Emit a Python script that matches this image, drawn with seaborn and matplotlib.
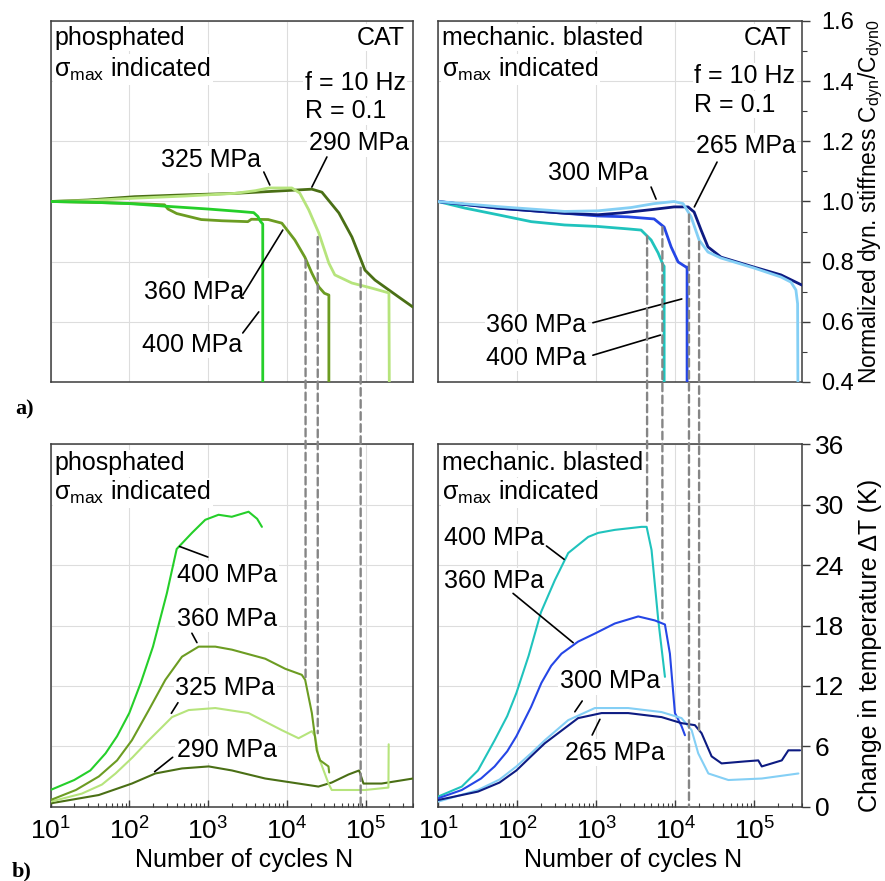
import numpy as np
import pandas as pd
import matplotlib
matplotlib.use("Agg")
import matplotlib.pyplot as plt
import seaborn as sns
from matplotlib.patches import ConnectionPatch
from matplotlib.ticker import LogLocator, MultipleLocator, NullFormatter, FormatStrFormatter

sns.set_style("white")
plt.rcParams['font.family'] = ['Liberation Sans', 'DejaVu Sans']
plt.rcParams['mathtext.fontset'] = 'custom'
plt.rcParams['mathtext.rm'] = 'Liberation Sans'
plt.rcParams['mathtext.it'] = 'Liberation Sans:italic'
plt.rcParams['mathtext.bf'] = 'Liberation Sans:bold'
plt.rcParams['mathtext.sf'] = 'Liberation Sans'
plt.rcParams['text.color'] = 'black'
plt.rcParams['axes.labelcolor'] = 'black'
plt.rcParams['xtick.color'] = 'black'
plt.rcParams['ytick.color'] = 'black'

# ---------------- data: a) normalized dynamic stiffness ----------------
# phosphated
ph400_N = [10, 30, 100, 300, 1000, 2500, 3800, 4300, 4600, 4950, 4950]
ph400_C = [1.0, 0.998, 0.993, 0.984, 0.975, 0.967, 0.963, 0.950, 0.935, 0.925, 0.40]
ph360_N = [10, 50, 150, 280, 310, 400, 820, 1500, 3200, 3550, 5800, 8650, 12650, 16950, 20800, 25500, 30000, 34200, 34200]
ph360_C = [1.0, 0.996, 0.992, 0.989, 0.975, 0.960, 0.940, 0.936, 0.933, 0.941, 0.940, 0.928, 0.872, 0.815, 0.762, 0.716, 0.695, 0.689, 0.40]
ph325_N = [10, 30, 117, 500, 2180, 4000, 5900, 11600, 14600, 19000, 25500, 34200, 40700, 67100, 120000, 198000, 200000]
ph325_C = [1.0, 1.003, 1.011, 1.018, 1.027, 1.036, 1.045, 1.045, 1.028, 0.972, 0.895, 0.795, 0.756, 0.729, 0.712, 0.696, 0.40]
ph290_N = [10, 30, 117, 500, 2180, 9440, 20800, 27900, 45800, 67100, 84700, 98200, 131500, 265000, 400000]
ph290_C = [1.0, 1.005, 1.016, 1.022, 1.027, 1.036, 1.041, 1.031, 0.962, 0.882, 0.815, 0.772, 0.739, 0.682, 0.649]
# mechanically blasted
mb400_N = [10, 22, 57, 151, 398, 1050, 2500, 3700, 4950, 6070, 7020, 7230, 7230]
mb400_C = [1.0, 0.978, 0.956, 0.933, 0.922, 0.917, 0.909, 0.905, 0.872, 0.829, 0.789, 0.785, 0.40]
mb360_N = [10, 57, 398, 1050, 2500, 5400, 7230, 8860, 10860, 13700, 14100, 14100]
mb360_C = [1.0, 0.978, 0.961, 0.952, 0.949, 0.942, 0.915, 0.849, 0.799, 0.782, 0.782, 0.40]
mb300_N = [10, 57, 398, 1050, 2770, 5400, 9660, 12550, 15850, 20000, 25900, 37900, 98900, 217000, 290000, 335000, 352000, 355000]
mb300_C = [1.0, 0.983, 0.967, 0.969, 0.980, 0.993, 1.0, 0.993, 0.949, 0.872, 0.832, 0.812, 0.779, 0.749, 0.732, 0.706, 0.66, 0.40]
mb265_N = [10, 57, 398, 1050, 2070, 5000, 9660, 14500, 17300, 21200, 25900, 37900, 98900, 217000, 400000]
mb265_C = [1.0, 0.978, 0.961, 0.956, 0.962, 0.973, 0.982, 0.982, 0.965, 0.905, 0.849, 0.815, 0.782, 0.756, 0.722]

# ---------------- data: b) change in temperature ----------------
tph400_N = [10, 20, 32, 50, 70, 100, 140, 200, 300, 400, 625, 922, 1360, 2000, 3270, 4200, 4830]
tph400_T = [1.66, 2.65, 3.6, 5.3, 7.0, 9.3, 12.3, 15.9, 21.2, 25.6, 27.2, 28.5, 29.0, 28.8, 29.3, 28.6, 27.8]
tph360_N = [10, 21, 41, 70, 108, 177, 287, 467, 760, 1236, 2010, 5320, 9550, 15500, 17100, 20800, 24000, 26500, 33800, 34500]
tph360_T = [0.66, 1.66, 3.0, 4.6, 6.6, 9.6, 12.6, 14.9, 15.9, 15.9, 15.6, 14.7, 13.7, 13.1, 12.6, 9.3, 5.6, 4.6, 4.0, 3.4]
tph325_N = [10, 25, 45, 67, 110, 177, 260, 349, 568, 1236, 3270, 8650, 14100, 20800, 22900, 25200, 33800, 37200, 98600, 195000, 196500]
tph325_T = [0.5, 1.3, 2.2, 3.3, 4.9, 6.6, 7.9, 8.9, 9.6, 9.8, 9.3, 7.6, 6.8, 7.5, 7.0, 5.0, 2.3, 1.66, 1.66, 1.9, 6.2]
tph290_N = [10, 41, 108, 214, 467, 1020, 2010, 5320, 14100, 25200, 37200, 60700, 82800, 94000, 160000, 400000]
tph290_T = [0.33, 1.16, 2.3, 3.3, 3.8, 4.0, 3.6, 2.8, 2.3, 2.0, 2.4, 3.2, 3.6, 2.3, 2.3, 2.8]

tmb400_N = [10, 20, 32, 52, 75, 98, 140, 200, 300, 443, 793, 1060, 1720, 3750, 4340, 5010, 6100, 7400]
tmb400_T = [1.0, 2.0, 3.6, 6.6, 9.0, 11.3, 15.0, 19.3, 22.5, 25.2, 26.8, 27.2, 27.5, 27.8, 27.8, 25.5, 18.5, 12.9]
tmb360_N = [10, 20, 35, 52, 75, 98, 150, 203, 270, 364, 591, 962, 1720, 3400, 5530, 7400, 8550, 9900, 12000, 13250]
tmb360_T = [0.83, 1.66, 2.8, 4.0, 5.5, 7.0, 9.9, 12.3, 14.0, 15.2, 16.4, 17.2, 18.2, 18.9, 18.5, 18.1, 15.2, 9.3, 8.0, 7.1]
tmb300_N = [10, 32, 60, 98, 150, 224, 443, 962, 2540, 6710, 12000, 16100, 19500, 26200, 46900, 124000, 360000]
tmb300_T = [0.5, 1.66, 2.7, 4.0, 5.3, 6.6, 8.6, 9.8, 9.8, 9.4, 8.8, 7.6, 5.3, 3.3, 2.65, 2.8, 3.3]
tmb265_N = [10, 32, 60, 98, 150, 224, 591, 1170, 2540, 6710, 12000, 17700, 21500, 28800, 38500, 76200, 112000, 124000, 222000, 269000, 378000]
tmb265_T = [0.66, 1.5, 2.4, 3.6, 5.0, 6.3, 8.8, 9.3, 9.3, 8.9, 8.3, 8.1, 7.3, 5.0, 4.3, 4.5, 4.6, 4.0, 4.6, 5.6, 5.6]

# dashed connector lines: cycles, value in a), value in b)
ph_links_N = [17300, 24700, 86600]
ph_links_top = [0.805, 0.882, 0.78]
ph_links_bot = [12.6, 7.3, 0.0]
mb_links_N = [4400, 6870, 14900, 20000]
mb_links_top = [0.885, 0.915, 0.957, 0.866]
mb_links_bot = [28.2, 18.7, 0.0, 7.6]

ph_colors = {'400 MPa': '#25cf2a', '360 MPa': '#6c9c22', '325 MPa': '#b6e47c', '290 MPa': '#4a6f15'}
mb_colors = {'400 MPa': '#20c3bd', '360 MPa': '#2546e6', '300 MPa': '#84cff5', '265 MPa': '#0d1b82'}

W, H = 885, 881
fig = plt.figure(figsize=(W / 100, H / 100), dpi=100)


def fig_rect(x0, y0, x1, y1):
    return [x0 / W, 1 - y1 / H, (x1 - x0) / W, (y1 - y0) / H]


axTL = fig.add_axes(fig_rect(50.5, 21, 413, 382))
axTR = fig.add_axes(fig_rect(438, 21, 802, 382))
axBL = fig.add_axes(fig_rect(50.5, 444.3, 413, 806.7))
axBR = fig.add_axes(fig_rect(438, 444.3, 802, 806.7))


def draw(ax, series, palette, lw):
    frames = []
    for name, (n, v) in series.items():
        frames.append(pd.DataFrame({'N': n, 'val': v, 'series': name}))
    df = pd.concat(frames, ignore_index=True)
    sns.lineplot(data=df, x='N', y='val', hue='series', palette=palette,
                 estimator=None, sort=False, legend=False, lw=lw, ax=ax, zorder=4)


draw(axTL, {'290 MPa': (ph290_N, ph290_C), '325 MPa': (ph325_N, ph325_C),
            '360 MPa': (ph360_N, ph360_C), '400 MPa': (ph400_N, ph400_C)}, ph_colors, 2.0)
draw(axTR, {'400 MPa': (mb400_N, mb400_C), '360 MPa': (mb360_N, mb360_C),
            '265 MPa': (mb265_N, mb265_C), '300 MPa': (mb300_N, mb300_C)}, mb_colors, 2.0)
draw(axBL, {'290 MPa': (tph290_N, tph290_T), '325 MPa': (tph325_N, tph325_T),
            '360 MPa': (tph360_N, tph360_T), '400 MPa': (tph400_N, tph400_T)}, ph_colors, 1.5)
draw(axBR, {'400 MPa': (tmb400_N, tmb400_T), '360 MPa': (tmb360_N, tmb360_T),
            '300 MPa': (tmb300_N, tmb300_T), '265 MPa': (tmb265_N, tmb265_T)}, mb_colors, 1.5)

FS = 18
spine_c = '#3c3c3c'
for ax in (axTL, axTR, axBL, axBR):
    ax.set_xscale('log')
    ax.set_xlim(10, 4e5)
    ax.set_xlabel('')
    ax.set_ylabel('')
    for s in ax.spines.values():
        s.set_visible(True)
        s.set_color(spine_c)
        s.set_linewidth(1.1)
    ax.grid(True, which='major', color='#dddddd', lw=0.8)
    ax.set_axisbelow(True)
    ax.xaxis.set_major_locator(LogLocator(base=10, numticks=10))
    ax.xaxis.set_minor_locator(LogLocator(base=10, subs=np.arange(2, 10), numticks=20))
    ax.xaxis.set_minor_formatter(NullFormatter())

for ax in (axTL, axTR):
    ax.set_ylim(0.4, 1.6)
    ax.yaxis.set_major_locator(MultipleLocator(0.2))
    ax.tick_params(axis='x', which='both', bottom=False, top=False, labelbottom=False)
for ax in (axBL, axBR):
    ax.set_ylim(0, 36)
    ax.yaxis.set_major_locator(MultipleLocator(6))
    ax.tick_params(axis='x', which='major', bottom=True, direction='in', length=5, width=1,
                   color=spine_c, labelcolor='black', labelsize=19, pad=8)
    ax.tick_params(axis='x', which='minor', bottom=True, direction='in', length=3, width=0.8,
                   color=spine_c)
    ax.set_xlabel('Number of cycles N', fontsize=FS, color='black')
    ax.xaxis.set_label_coords(0.535, -0.166)
    ax.xaxis.label.set_va('baseline')

for ax in (axTL, axBL):
    ax.tick_params(axis='y', which='both', left=False, right=False, labelleft=False)

axTR.yaxis.tick_right()
axTR.yaxis.set_minor_locator(MultipleLocator(0.1))
axTR.yaxis.set_major_formatter(FormatStrFormatter('%.1f'))
axTR.tick_params(axis='y', which='major', right=True, left=False, direction='out', length=6,
                 width=1, color=spine_c, labelcolor='black', labelsize=17, pad=8)
axTR.tick_params(axis='y', which='minor', right=True, left=False, direction='out', length=3.5,
                 width=0.8, color=spine_c)
axTR.set_ylabel(r'Normalized dyn. stiffness $\mathrm{C_{dyn}/C_{dyn0}}$', fontsize=16.5, color='black')
axTR.yaxis.set_label_position('right')
axTR.yaxis.set_label_coords(1.188, 0.5)
axTR.yaxis.label.set_va('center')

axBR.yaxis.tick_right()
axBR.tick_params(axis='y', which='major', right=True, left=False, direction='out', length=6,
                 width=1, color=spine_c, labelcolor='black', labelsize=19, pad=3)
axBR.set_ylabel('Change in temperature ΔT (K)', fontsize=FS, color='black')
axBR.yaxis.set_label_position('right')
axBR.yaxis.set_label_coords(1.188, 0.446)
axBR.yaxis.label.set_va('center')

box = dict(facecolor='white', edgecolor='none', pad=1.0)
sig = r'$\mathrm{σ_{max}}$ indicated'


def corner_texts(ax, title, fy_title, fy_sig):
    ax.text(0.011, fy_title, title, transform=ax.transAxes, fontsize=FS, ha='left', va='baseline',
            bbox=box, zorder=3)
    ax.text(0.011, fy_sig, sig, transform=ax.transAxes, fontsize=FS, ha='left', va='baseline',
            bbox=box, zorder=3)


corner_texts(axTL, 'phosphated', 0.934, 0.845)
corner_texts(axTR, 'mechanic. blasted', 0.934, 0.845)
corner_texts(axBL, 'phosphated', 0.929, 0.846)
corner_texts(axBR, 'mechanic. blasted', 0.929, 0.846)

axTL.text(0.978, 0.934, 'CAT', transform=axTL.transAxes, fontsize=FS, ha='right', va='baseline', bbox=box, zorder=3)
axTL.text(0.702, 0.809, 'f = 10 Hz', transform=axTL.transAxes, fontsize=FS, ha='left', va='baseline', bbox=box, zorder=3)
axTL.text(0.702, 0.731, 'R = 0.1', transform=axTL.transAxes, fontsize=FS, ha='left', va='baseline', bbox=box, zorder=3)
axTR.text(0.973, 0.934, 'CAT', transform=axTR.transAxes, fontsize=FS, ha='right', va='baseline', bbox=box, zorder=3)
axTR.text(0.704, 0.828, 'f = 10 Hz', transform=axTR.transAxes, fontsize=FS, ha='left', va='baseline', bbox=box, zorder=3)
axTR.text(0.704, 0.748, 'R = 0.1', transform=axTR.transAxes, fontsize=FS, ha='left', va='baseline', bbox=box, zorder=3)


def label(ax, text, xy_text, p0, p1):
    ax.text(10 ** xy_text[0], xy_text[1], text, fontsize=FS, ha='left', va='baseline',
            bbox=box, zorder=3)
    ax.plot([10 ** p0[0], 10 ** p1[0]], [p0[1], p1[1]], color='black', lw=1.2, zorder=5)


label(axTL, '325 MPa', (2.398, 1.115), (3.708, 1.098), (3.784, 1.055))
label(axTL, '290 MPa', (4.28, 1.171), (4.509, 1.148), (4.318, 1.048))
label(axTL, '360 MPa', (2.182, 0.676), (3.441, 0.689), (3.949, 0.905))
label(axTL, '400 MPa', (2.157, 0.500), (3.441, 0.563), (3.644, 0.633))

label(axTR, '265 MPa', (4.263, 1.161), (4.528, 1.131), (4.241, 0.982))
label(axTR, '300 MPa', (2.389, 1.071), (3.694, 1.048), (3.757, 1.008))
label(axTR, '360 MPa', (1.61, 0.566), (2.958, 0.597), (4.082, 0.676))
label(axTR, '400 MPa', (1.61, 0.457), (2.958, 0.489), (3.812, 0.556))

label(axBL, '400 MPa', (2.605, 22.37), (2.639, 25.85), (2.998, 24.8))
label(axBL, '360 MPa', (2.605, 17.96), (2.795, 17.23), (2.859, 16.3))
label(axBL, '325 MPa', (2.585, 11.1), (2.618, 10.33), (2.534, 9.28))
label(axBL, '290 MPa', (2.605, 4.97), (2.551, 4.91), (2.322, 3.48))

label(axBR, '400 MPa', (1.076, 26.0), (2.371, 25.9), (2.595, 24.57))
label(axBR, '360 MPa', (1.076, 21.7), (1.949, 21.19), (2.709, 16.29))
label(axBR, '300 MPa', (2.54, 11.76), (2.823, 10.5), (2.73, 9.43))
label(axBR, '265 MPa', (2.61, 4.64), (2.949, 7.12), (3.047, 8.68))

for xs, yt, yb, at, ab in ((ph_links_N, ph_links_top, ph_links_bot, axTL, axBL),
                           (mb_links_N, mb_links_top, mb_links_bot, axTR, axBR)):
    for x, y0, y1 in zip(xs, yt, yb):
        con = ConnectionPatch(xyA=(x, y0), coordsA='data', axesA=at,
                              xyB=(x, y1), coordsB='data', axesB=ab,
                              color='#858585', lw=1.7, linestyle=(0, (3.2, 1.9)), zorder=10)
        fig.add_artist(con)

fig.text(15 / W, 1 - 414.3 / H, 'a)', fontsize=16, fontweight='bold', family='Liberation Serif',
         ha='left', va='baseline', color='black')
fig.text(12 / W, 1 - 876.7 / H, 'b)', fontsize=16, fontweight='bold', family='Liberation Serif',
         ha='left', va='baseline', color='black')

fig.savefig('out.png', dpi=100)
